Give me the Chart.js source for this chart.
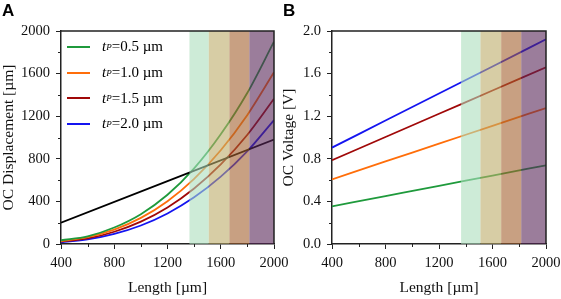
<!DOCTYPE html>
<html>
<head>
<meta charset="utf-8">
<script src="https://cdn.jsdelivr.net/npm/chart.js@4.4.0/dist/chart.umd.min.js"></script>
<style>
  html, body { margin: 0; padding: 0; background: #fff; }
  #wrap { position: relative; width: 561px; height: 299px; overflow: hidden; }
  .panel { position: absolute; top: 0; height: 299px; }
  #boxA { left: 0; width: 300px; }
  #boxB { left: 280px; width: 281px; }
  .tag { position: absolute; top: 1px; font: bold 17px "Liberation Sans", Arial, sans-serif; }
  #legend { position: absolute; left: 67px; top: 34px; font: 15px "Liberation Serif", "Times New Roman", serif; }
  .row { height: 25.7px; display: flex; align-items: center; white-space: nowrap; }
  .swatch { display: inline-block; width: 23px; height: 2px; margin-right: 12px; }
  sub { font-size: 9px; font-style: italic; vertical-align: -2px; }
</style>
</head>
<body>
<div id="wrap">
  <div class="panel" id="boxA"><canvas id="chartA" width="300" height="299"></canvas></div>
  <div class="panel" id="boxB"><canvas id="chartB" width="281" height="299"></canvas></div>
  <div class="tag" style="left:2px">A</div>
  <div class="tag" style="left:283px">B</div>
  <div id="legend"></div>
</div>
<script>
// ===== DATA =====
const lengths = [400, 600, 800, 1000, 1200, 1400, 1600, 1800, 2000];
const seriesLabels = ["0.5 µm", "1.0 µm", "1.5 µm", "2.0 µm"];
const seriesColors = ["#1f9a3c", "#ff6e0a", "#a00808", "#1414f0"];

// OC displacement [µm] (panel A)
const dispT05 = [35, 72, 155, 280, 462, 710, 1030, 1420, 1900];
const dispT10 = [28, 65, 135, 245, 402, 612, 880, 1212, 1612];
const dispT15 = [23, 52, 115, 210, 343, 521, 747, 1026, 1364];
const dispT20 = [16, 43, 95, 174, 287, 438, 632, 872, 1164];
const refLengths = [400, 2000];
const refDisp = [200, 980];

// OC voltage [V] (panel B)
const voltLengths = [400, 800, 1200, 1600, 2000];
const voltT05 = [0.354, 0.450, 0.546, 0.643, 0.739];
const voltT10 = [0.607, 0.775, 0.942, 1.110, 1.277];
const voltT15 = [0.786, 1.005, 1.223, 1.441, 1.659];
const voltT20 = [0.905, 1.159, 1.413, 1.667, 1.922];

// shaded length bands
const bandEdges = [1365, 1510, 1665, 1815, 2000];
const bandColors = [
  "rgba(172,222,188,0.6)",
  "rgba(188,172,105,0.6)",
  "rgba(163,97,47,0.6)",
  "rgba(88,38,88,0.6)"
];

const serif = "'Liberation Serif', 'Times New Roman', serif";

function pts(xs, ys) {
  return xs.map((x, i) => ({ x: x, y: ys[i] }));
}

function lineSet(xs, ys, color) {
  return {
    data: pts(xs, ys),
    borderColor: color,
    borderWidth: 1.8,
    pointRadius: 0,
    fill: false,
    cubicInterpolationMode: "monotone"
  };
}

// bands over the lines, box edges and minor ticks
const decorPlugin = {
  id: "decor",
  afterDatasetsDraw(chart) {
    const { ctx, chartArea: a, scales } = chart;
    const xs = scales.x;
    ctx.save();
    for (let i = 0; i < bandColors.length; i++) {
      const x0 = xs.getPixelForValue(bandEdges[i]);
      const x1 = xs.getPixelForValue(bandEdges[i + 1]);
      ctx.fillStyle = bandColors[i];
      ctx.fillRect(x0, a.top, x1 - x0, a.bottom - a.top);
    }
    ctx.restore();
  },
  afterDraw(chart) {
    const { ctx, chartArea: a, scales } = chart;
    const xs = scales.x, ys = scales.y;
    ctx.save();
    ctx.strokeStyle = "#222";
    ctx.lineWidth = 1.5;
    ctx.beginPath();
    ctx.moveTo(a.left, a.top);
    ctx.lineTo(a.right, a.top);
    ctx.lineTo(a.right, a.bottom);
    ctx.stroke();
    // minor ticks halfway between majors
    ctx.lineWidth = 1;
    ctx.beginPath();
    const xt = xs.ticks.map(t => t.value);
    for (let i = 0; i < xt.length - 1; i++) {
      const px = Math.round(xs.getPixelForValue((xt[i] + xt[i + 1]) / 2)) + 0.5;
      ctx.moveTo(px, a.bottom);
      ctx.lineTo(px, a.bottom + 3);
    }
    const yt = ys.ticks.map(t => t.value);
    for (let i = 0; i < yt.length - 1; i++) {
      const py = Math.round(ys.getPixelForValue((yt[i] + yt[i + 1]) / 2)) + 0.5;
      ctx.moveTo(a.left, py);
      ctx.lineTo(a.left - 3, py);
    }
    ctx.stroke();
    ctx.restore();
  }
};

function makeOptions(yMax, yStep, yTitle, yWidth, yFmt, padRight) {
  return {
    responsive: false,
    animation: false,
    layout: { padding: { top: 31, right: padRight, bottom: 0, left: 0 } },
    plugins: { legend: { display: false }, tooltip: { enabled: false } },
    scales: {
      x: {
        type: "linear",
        min: 400,
        max: 2000,
        afterFit: s => { s.height = 55; s.paddingLeft = 0; s.paddingRight = 0; },
        ticks: { stepSize: 400, color: "#111", padding: 5, maxRotation: 0, callback: v => String(v), font: { family: serif, size: 14.5 } },
        grid: { display: true, drawOnChartArea: false, drawTicks: true, tickLength: 5, tickColor: "#222", tickWidth: 1 },
        border: { display: true, color: "#222", width: 1.5 },
        title: { display: true, text: "Length [µm]", color: "#111", padding: { top: 0, bottom: 2 }, font: { family: serif, size: 15.5 } }
      },
      y: {
        type: "linear",
        min: 0,
        max: yMax,
        afterFit: s => { s.width = yWidth; s.paddingTop = 0; s.paddingBottom = 0; },
        ticks: { stepSize: yStep, color: "#111", padding: 6, callback: yFmt, font: { family: serif, size: 14.5 } },
        grid: { display: true, drawOnChartArea: false, drawTicks: true, tickLength: 5, tickColor: "#222", tickWidth: 1 },
        border: { display: true, color: "#222", width: 1.5 },
        title: { display: true, text: yTitle, color: "#111", padding: { top: 0, bottom: 0 }, font: { family: serif, size: 15.5 } }
      }
    }
  };
}

// ===== PANEL A =====
new Chart(document.getElementById("chartA"), {
  type: "line",
  data: {
    datasets: [
      lineSet(refLengths, refDisp, "#000"),
      lineSet(lengths, dispT05, seriesColors[0]),
      lineSet(lengths, dispT10, seriesColors[1]),
      lineSet(lengths, dispT15, seriesColors[2]),
      lineSet(lengths, dispT20, seriesColors[3])
    ]
  },
  options: makeOptions(2000, 400, "OC Displacement [µm]", 61, v => String(v), 26),
  plugins: [decorPlugin]
});

// ===== PANEL B =====
new Chart(document.getElementById("chartB"), {
  type: "line",
  data: {
    datasets: [
      lineSet(voltLengths, voltT05, seriesColors[0]),
      lineSet(voltLengths, voltT10, seriesColors[1]),
      lineSet(voltLengths, voltT15, seriesColors[2]),
      lineSet(voltLengths, voltT20, seriesColors[3])
    ]
  },
  options: makeOptions(2.0, 0.4, "OC Voltage [V]", 52, v => v.toFixed(1), 15),
  plugins: [decorPlugin]
});

// ===== LEGEND =====
const legend = document.getElementById("legend");
seriesLabels.forEach((lbl, i) => {
  const row = document.createElement("div");
  row.className = "row";
  row.innerHTML = '<span class="swatch" style="background:' + seriesColors[i] + '"></span>' +
    '<i>t</i><sub>P</sub>=' + lbl;
  legend.appendChild(row);
});
</script>
</body>
</html>
